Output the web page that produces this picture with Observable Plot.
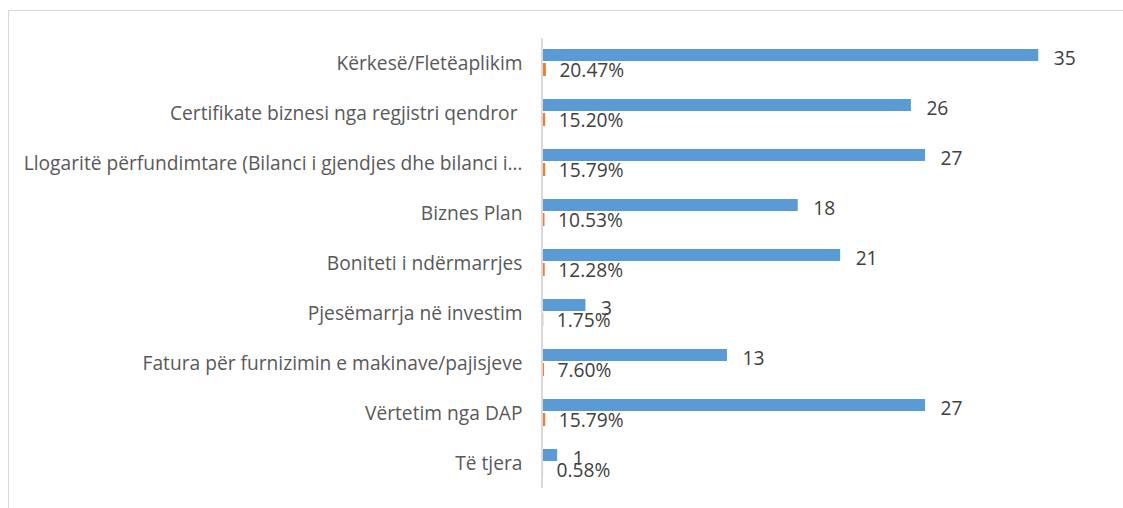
<!DOCTYPE html>
<html>
<head>
<meta charset="utf-8">
<script src="https://cdn.jsdelivr.net/npm/d3@7"></script>
<script src="https://cdn.jsdelivr.net/npm/@observablehq/plot@0.6"></script>
<style>
  html, body { margin: 0; padding: 0; background: #fff; overflow: hidden; }
  #wrap { position: relative; width: 1123px; height: 508px; }
  #frame { position: absolute; left: 8px; top: 10px; width: 1300px; height: 700px; border: 1px solid #d9d9d9; box-sizing: border-box; }
  #chart { position: absolute; left: 0; top: 0; }
</style>
</head>
<body>
<div id="wrap"><div id="frame"></div><div id="chart"></div></div>
<script>
const categories = [
  "Kërkesë/Fletëaplikim",
  "Certifikate biznesi nga regjistri qendror ",
  "Llogaritë përfundimtare (Bilanci i gjendjes dhe bilanci i…",
  "Biznes Plan",
  "Boniteti i ndërmarrjes",
  "Pjesëmarrja në investim",
  "Fatura për furnizimin e makinave/pajisjeve",
  "Vërtetim nga DAP",
  "Të tjera"
];
const counts = [35, 26, 27, 18, 21, 3, 13, 27, 1];
const shares = [0.2047, 0.1520, 0.1579, 0.1053, 0.1228, 0.0175, 0.0760, 0.1579, 0.0058];

const data = categories.map((c, i) => ({category: c, count: counts[i], share: shares[i]}));
const fmt = d3.format(".2%");

const chart = Plot.plot({
  width: 1123,
  height: 508,
  marginLeft: 543,
  marginRight: 14,
  marginTop: 38,
  marginBottom: 20,
  style: {fontFamily: "'Open Sans', sans-serif", fontSize: "19.2px", color: "#595959", background: "transparent"},
  x: {domain: [0, 40], axis: null},
  y: {domain: categories, padding: 0, axis: null},
  marks: [
    Plot.ruleX([0], {stroke: "#d9d9d9", strokeWidth: 2, dx: -1.5}),
    Plot.barX(data, {y: "category", x: "count", fill: "#5b9bd5", insetTop: 11, insetBottom: 27}),
    Plot.barX(data, {y: "category", x: "share", fill: "#ed7d31", insetTop: 25, insetBottom: 12}),
    Plot.text(data, {y: "category", x: "count", text: d => String(d.count), dx: 15, dy: -5, textAnchor: "start", fill: "#404040", fontSize: 19.2}),
    Plot.text(data, {y: "category", x: "share", text: d => fmt(d.share), dx: 13, dy: 7, textAnchor: "start", fill: "#404040", fontSize: 19.2}),
    Plot.axisY({anchor: "left", tickSize: 0, tickPadding: 21, fontSize: 19.2, fill: "#595959", label: null})
  ]
});
document.getElementById("chart").appendChild(chart);
</script>
</body>
</html>
